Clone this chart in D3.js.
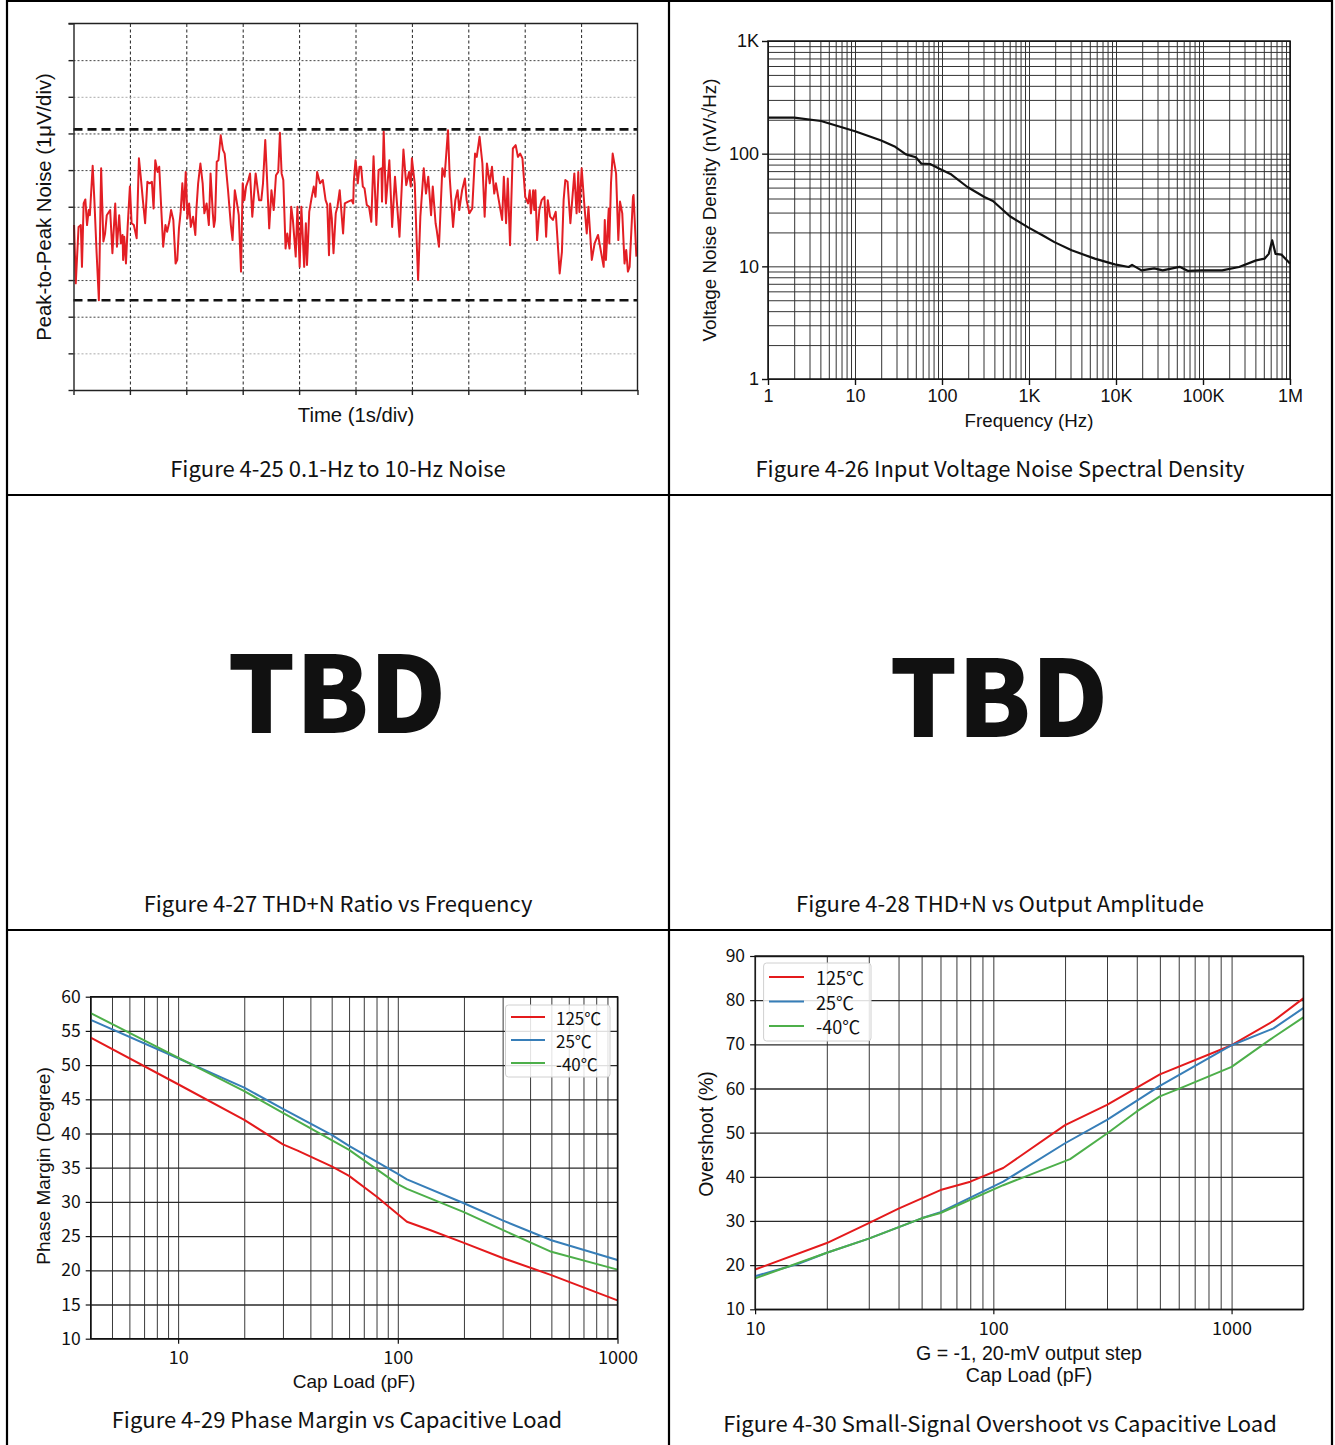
<!DOCTYPE html>
<html><head><meta charset="utf-8">
<script src="https://cdn.jsdelivr.net/npm/d3@7/dist/d3.min.js"></script>
<style>body{margin:0;background:#fff}svg{display:block}</style>
</head><body><svg id="c" width="1335" height="1445"></svg>
<script>
// ---------------- DATA ----------------
const captions = [
  "Figure 4-25 0.1-Hz to 10-Hz Noise",
  "Figure 4-26 Input Voltage Noise Spectral Density",
  "Figure 4-27 THD+N Ratio vs Frequency",
  "Figure 4-28 THD+N vs Output Amplitude",
  "Figure 4-29 Phase Margin vs Capacitive Load",
  "Figure 4-30 Small-Signal Overshoot vs Capacitive Load"
];
const tbdText = "TBD";

// Fig 4-25 : time (s) , noise (divisions of 1 uV)
const noiseDivs = [0,1,2,3,4,5,6,7,8,9,10];
const noiseBounds = [2.45, 7.11];
const noiseTrace = [
[0.01,4.50],[0.04,2.91],[0.09,4.45],[0.13,4.50],[0.15,3.36],[0.18,5.09],[0.21,5.20],[0.24,4.50],[0.27,4.91],[0.29,4.77],
[0.34,6.12],[0.37,5.18],[0.41,3.73],[0.45,2.45],[0.49,6.05],[0.53,4.05],[0.56,4.27],[0.59,4.77],[0.65,4.91],[0.69,3.73],
[0.74,5.09],[0.77,3.91],[0.81,4.77],[0.84,4.00],[0.87,4.23],[0.88,3.55],[0.90,4.18],[0.93,3.45],[0.96,4.45],[1.00,5.55],
[1.03,4.55],[1.07,4.50],[1.12,4.14],[1.16,6.32],[1.19,5.86],[1.23,5.18],[1.27,4.55],[1.31,5.68],[1.35,5.64],[1.39,5.68],
[1.42,4.95],[1.45,6.27],[1.49,5.95],[1.52,6.09],[1.56,4.82],[1.59,3.91],[1.63,4.50],[1.66,4.32],[1.70,4.59],[1.73,4.91],
[1.77,4.64],[1.81,3.45],[1.84,3.55],[1.87,4.41],[1.90,4.86],[1.93,5.64],[1.96,4.91],[1.99,5.95],[2.02,4.68],[2.05,5.09],
[2.08,4.45],[2.12,4.73],[2.16,4.23],[2.18,4.95],[2.21,5.64],[2.25,6.18],[2.29,5.64],[2.32,4.82],[2.36,5.09],[2.40,4.50],
[2.43,5.91],[2.47,4.82],[2.49,4.45],[2.51,4.64],[2.54,6.23],[2.57,6.27],[2.61,6.95],[2.65,6.55],[2.68,6.45],[2.74,5.45],
[2.79,4.50],[2.82,4.09],[2.86,5.45],[2.89,5.18],[2.93,4.77],[2.97,3.23],[3.00,5.64],[3.03,5.18],[3.06,5.55],[3.10,5.73],
[3.13,5.91],[3.17,4.73],[3.23,5.91],[3.29,5.18],[3.33,5.18],[3.36,5.64],[3.40,6.82],[3.43,5.82],[3.47,4.41],[3.51,5.45],
[3.55,4.91],[3.59,5.86],[3.63,5.95],[3.66,7.02],[3.69,5.91],[3.72,5.73],[3.76,3.86],[3.79,4.27],[3.83,3.86],[3.86,5.00],
[3.89,4.64],[3.94,3.64],[3.97,5.00],[4.01,3.36],[4.04,5.00],[4.09,3.36],[4.12,4.55],[4.14,3.41],[4.18,4.86],[4.22,5.23],
[4.26,5.55],[4.29,5.27],[4.32,5.95],[4.37,5.64],[4.42,5.73],[4.47,5.18],[4.50,5.05],[4.53,3.68],[4.55,5.09],[4.58,4.68],
[4.61,3.73],[4.65,4.82],[4.68,5.00],[4.72,5.45],[4.78,4.27],[4.81,5.09],[4.87,5.14],[4.93,5.18],[4.96,5.09],[4.97,5.68],
[5.00,6.27],[5.02,6.00],[5.04,5.64],[5.07,6.09],[5.10,6.09],[5.13,5.55],[5.16,5.50],[5.20,5.05],[5.24,5.00],[5.28,4.59],
[5.32,6.38],[5.37,4.50],[5.41,6.00],[5.46,6.05],[5.47,5.14],[5.50,7.05],[5.54,5.09],[5.60,6.27],[5.65,4.45],[5.70,5.82],
[5.78,4.18],[5.85,6.56],[5.90,5.59],[5.95,5.95],[5.98,5.55],[6.00,6.32],[6.05,5.64],[6.08,4.27],[6.11,3.00],[6.15,4.73],
[6.21,6.05],[6.25,5.36],[6.29,5.82],[6.34,4.77],[6.37,5.55],[6.42,4.55],[6.44,4.36],[6.48,3.91],[6.54,6.05],[6.58,5.82],
[6.64,7.09],[6.67,5.82],[6.73,4.45],[6.77,5.18],[6.81,5.45],[6.84,4.91],[6.89,5.45],[6.94,5.77],[6.97,5.18],[7.02,4.82],
[7.07,4.95],[7.12,6.45],[7.15,6.36],[7.20,6.91],[7.25,6.18],[7.29,4.73],[7.33,6.18],[7.38,5.64],[7.42,6.09],[7.46,5.36],
[7.49,5.64],[7.54,5.18],[7.60,4.64],[7.63,5.82],[7.67,4.55],[7.70,5.77],[7.74,3.95],[7.79,6.59],[7.84,6.68],[7.88,6.36],
[7.92,6.45],[7.96,6.32],[8.01,5.27],[8.06,5.09],[8.09,5.45],[8.11,4.82],[8.15,5.45],[8.17,4.91],[8.19,5.45],[8.22,4.09],
[8.26,4.91],[8.30,5.18],[8.35,5.27],[8.38,4.18],[8.41,5.18],[8.45,4.73],[8.50,4.64],[8.55,4.86],[8.62,3.18],[8.66,3.77],
[8.69,5.18],[8.72,5.73],[8.76,5.68],[8.81,4.55],[8.88,5.91],[8.92,4.82],[8.95,5.95],[8.97,4.86],[9.01,6.05],[9.06,5.00],
[9.10,4.27],[9.13,5.00],[9.19,3.55],[9.24,4.00],[9.30,4.23],[9.40,3.36],[9.42,4.64],[9.44,3.55],[9.49,4.95],[9.50,4.00],
[9.53,5.64],[9.56,6.45],[9.62,5.91],[9.66,4.09],[9.69,5.14],[9.73,4.82],[9.77,3.45],[9.80,3.82],[9.83,3.23],[9.86,3.36],
[9.92,5.27],[9.93,5.32],[9.98,3.64]
];

// Fig 4-26 : frequency (Hz), noise density (nV/rtHz)
const nsdFreq = [1,2,4.07,10,20,29,38.5,50,58,73,93.5,125,196,307,385,603,967,1480,1960,3090,5700,9670,14000,15300,19600,27500,34400,53800,67500,96700,166000,260000,408000,510000,570000,624000,682000,798000,1000000];
const nsdVal  = [209,209,195,158,131,115,98.6,93,81.5,81,73.6,66,50.6,41.2,38,27.8,22.3,18.6,16.4,13.9,11.7,10.4,9.86,10.3,9.2,9.6,9.2,9.9,9.1,9.2,9.2,9.86,11.3,11.7,12.9,17.0,12.9,12.7,10.6];
const nsdYTicks = [1,10,100,1000];
const nsdYLabels = ["1","10","100","1K"];
const nsdXTicks = [1,10,100,1000,10000,100000,1000000];
const nsdXLabels = ["1","10","100","1K","10K","100K","1M"];

// Fig 4-29 : cap load (pF), phase margin (deg)
const pmCapRed   = [4,10,20,30,35,50,60,80,110,140,200,300,500,1000];
const pm125      = [54.0,47.2,42.0,38.4,37.5,35.2,33.8,30.8,27.1,25.9,24.0,21.8,19.3,15.6];
const pmCapBlue  = [4,10,20,30,50,60,100,110,200,300,500,1000];
const pm25       = [56.6,51.0,46.7,43.6,39.8,38.2,34.1,33.3,29.8,27.3,24.4,21.5];
const pmCapGreen = [4,10,20,30,60,100,110,200,300,500,1000];
const pmM40      = [57.6,51.1,46.2,43.0,37.6,32.6,31.9,28.5,25.9,22.7,20.1];
const pmYTicks = [10,15,20,25,30,35,40,45,50,55,60];
const pmXTicks = [10,100,1000];

// Fig 4-30 : cap load (pF), overshoot (%)
const osCapRed   = [10,20,30,40,60,80,110,200,300,500,1000,1500,2000];
const os125      = [19.0,25.0,29.5,32.8,37.0,38.9,42.0,51.7,56.3,63.2,69.8,75.3,80.4];
const osCapBlue  = [10,15,20,30,50,60,110,200,300,500,1000,1500,2000];
const os25       = [17.5,20.2,22.8,26.0,30.6,32.0,38.9,47.6,52.9,60.6,69.8,73.6,78.2];
const osCapGreen = [10,20,30,50,60,110,210,300,400,500,600,1000,1500,2000];
const osM40      = [17.0,22.8,26.0,30.6,31.8,38.1,44.0,49.8,54.8,58.2,59.9,64.9,71.6,76.1];
const osYTicks = [10,20,30,40,50,60,70,80,90];
const osXTicks = [10,100,1000];

const legendLabels = ["125℃","25℃","-40℃"];
const seriesColors = ["#e41a1c","#377eb8","#4daf4a"];

// ---------------- DRAWING ----------------
const svg = d3.select("#c");
const CJK = "'Noto Sans CJK SC','Noto Sans',sans-serif";
const ARIAL = "'Liberation Sans',Arial,Helvetica,sans-serif";

function text(g, x, y, s, size, font, anchor, extra) {
  const t = g.append("text").attr("x", x).attr("y", y).text(s)
    .attr("font-size", size).attr("font-family", font)
    .attr("text-anchor", anchor || "middle").attr("fill", "#111");
  if (extra) extra(t);
  return t;
}
function vtext(g, x, y, s, size, font) {
  return g.append("text").attr("transform", `translate(${x},${y}) rotate(-90)`)
    .attr("text-anchor", "middle").attr("font-size", size).attr("font-family", font)
    .attr("fill", "#111").text(s);
}

// ===== Panel 1 : 0.1-10 Hz noise =====
(function () {
  const g = svg.append("g");
  const x = d3.scaleLinear().domain([0, 10]).range([73.5, 637.5]);
  const y = d3.scaleLinear().domain([0, 10]).range([390, 23.5]);
  g.append("g").attr("transform", `translate(0,${y(0)})`)
    .call(d3.axisBottom(x).tickValues(noiseDivs.slice(1, -1)).tickSize(-(y(0) - y(10))).tickFormat(""))
    .call(a => a.select(".domain").remove())
    .call(a => a.selectAll("line").attr("stroke", "#222").attr("stroke-dasharray", "3,2.5").attr("stroke-width", 1));
  g.append("g").attr("transform", `translate(${x(0)},0)`)
    .call(d3.axisLeft(y).tickValues(noiseDivs.slice(1, -1)).tickSize(-(x(10) - x(0))).tickFormat(""))
    .call(a => a.select(".domain").remove())
    .call(a => a.selectAll("line").attr("stroke", d => (d === 8 || d === 1) ? "#aaa" : "#444")
      .attr("stroke-dasharray", "2,2").attr("stroke-width", 1));
  g.append("path").datum(noiseTrace)
    .attr("d", d3.line().x(d => x(d[0])).y(d => y(d[1])))
    .attr("fill", "none").attr("stroke", "#e31e24").attr("stroke-width", 2).attr("stroke-linejoin", "round");
  g.selectAll(".bound").data(noiseBounds).join("line")
    .attr("x1", x(0)).attr("x2", x(10)).attr("y1", d => y(d)).attr("y2", d => y(d))
    .attr("stroke", "#111").attr("stroke-width", 2.6).attr("stroke-dasharray", "9,5");
  g.append("g").attr("transform", `translate(0,${y(0)})`)
    .call(d3.axisBottom(x).tickValues(noiseDivs).tickSize(5).tickSizeOuter(0).tickFormat(""))
    .call(a => a.selectAll("path,line").attr("stroke", "#222").attr("stroke-width", 1.4));
  g.append("g").attr("transform", `translate(${x(0)},0)`)
    .call(d3.axisLeft(y).tickValues(noiseDivs).tickSize(5).tickSizeOuter(0).tickFormat(""))
    .call(a => a.selectAll("path,line").attr("stroke", "#222").attr("stroke-width", 1.4));
  g.append("path").attr("d", `M${x(0) - 5},${y(10)}H${x(10)}V${y(0)}`)
    .attr("fill", "none").attr("stroke", "#222").attr("stroke-width", 1.4);
  text(g, 356, 422, "Time (1s/div)", 20.3, ARIAL);
  vtext(g, 51, 207, "Peak-to-Peak Noise (1μV/div)", 20.3, ARIAL);
})();

// ===== Panel 2 : noise spectral density =====
(function () {
  const g = svg.append("g");
  const x = d3.scaleLog().domain([1, 1e6]).range([768, 1290]);
  const y = d3.scaleLog().domain([1, 1000]).range([379, 41]);
  g.append("g").attr("transform", `translate(0,${y(1)})`)
    .call(d3.axisBottom(x).ticks(60).tickSize(-(y(1) - y(1000))).tickFormat(""))
    .call(a => a.select(".domain").remove())
    .call(a => a.selectAll("line").attr("stroke", "#333").attr("stroke-width", 1));
  g.append("g").attr("transform", `translate(${x(1)},0)`)
    .call(d3.axisLeft(y).ticks(30).tickSize(-(x(1e6) - x(1))).tickFormat(""))
    .call(a => a.select(".domain").remove())
    .call(a => a.selectAll("line").attr("stroke", "#333").attr("stroke-width", 1));
  g.append("rect").attr("x", x(1)).attr("y", y(1000)).attr("width", x(1e6) - x(1)).attr("height", y(1) - y(1000))
    .attr("fill", "none").attr("stroke", "#111").attr("stroke-width", 1.5);
  g.append("g").attr("transform", `translate(0,${y(1)})`)
    .call(d3.axisBottom(x).tickValues(nsdXTicks).tickSize(6).tickSizeOuter(0).tickFormat((d, i) => nsdXLabels[i]).tickPadding(4))
    .call(a => a.select(".domain").remove())
    .call(a => a.selectAll("line").attr("stroke", "#111").attr("stroke-width", 1.4))
    .call(a => a.selectAll("text").attr("font-size", 18).attr("font-family", ARIAL).attr("fill", "#111"));
  g.append("g").attr("transform", `translate(${x(1)},0)`)
    .call(d3.axisLeft(y).tickValues(nsdYTicks).tickSize(6).tickSizeOuter(0).tickFormat((d, i) => nsdYLabels[i]).tickPadding(3))
    .call(a => a.select(".domain").remove())
    .call(a => a.selectAll("line").attr("stroke", "#111").attr("stroke-width", 1.4))
    .call(a => a.selectAll("text").attr("font-size", 18).attr("font-family", ARIAL).attr("fill", "#111"));
  const pts = nsdFreq.map((f, i) => [f, nsdVal[i]]);
  g.append("path").datum(pts)
    .attr("d", d3.line().x(d => x(d[0])).y(d => y(d[1])))
    .attr("fill", "none").attr("stroke", "#111").attr("stroke-width", 2.2).attr("stroke-linejoin", "round");
  text(g, 1029, 427, "Frequency (Hz)", 18.7, ARIAL);
  vtext(g, 716, 210, "Voltage Noise Density (nV/√Hz)", 18.8, ARIAL);
})();

// ===== generic matplotlib-like panel =====
function mplPanel(opt) {
  const g = svg.append("g");
  const x = d3.scaleLog().domain(opt.xDom).range(opt.xRange);
  const y = d3.scaleLinear().domain(opt.yDom).range(opt.yRange);
  const h = opt.yRange[0] - opt.yRange[1], w = opt.xRange[1] - opt.xRange[0];
  g.append("g").attr("transform", `translate(0,${opt.yRange[0]})`)
    .call(d3.axisBottom(x).ticks(40).tickSize(-h).tickFormat(""))
    .call(a => a.select(".domain").remove())
    .call(a => a.selectAll("line").attr("stroke", "#3a3a3a").attr("stroke-width", 1));
  g.append("g").attr("transform", `translate(${opt.xRange[0]},0)`)
    .call(d3.axisLeft(y).tickValues(opt.yTicks).tickSize(-w).tickFormat(""))
    .call(a => a.select(".domain").remove())
    .call(a => a.selectAll("line").attr("stroke", "#2a2a2a").attr("stroke-width", 1.3));
  opt.series.forEach((s, i) => {
    g.append("path").datum(s.xs.map((c, j) => [c, s.ys[j]]))
      .attr("d", d3.line().x(d => x(d[0])).y(d => y(d[1])))
      .attr("fill", "none").attr("stroke", seriesColors[i]).attr("stroke-width", 2)
      .attr("stroke-linejoin", "round");
  });
  g.append("rect").attr("x", opt.xRange[0]).attr("y", opt.yRange[1]).attr("width", w).attr("height", h)
    .attr("fill", "none").attr("stroke", "#111").attr("stroke-width", 1.4);
  g.append("g").attr("transform", `translate(0,${opt.yRange[0]})`)
    .call(d3.axisBottom(x).tickValues(opt.xTicks).tickSize(5).tickSizeOuter(0).tickFormat(d3.format("d")).tickPadding(8))
    .call(a => a.select(".domain").remove())
    .call(a => a.selectAll("line").attr("stroke", "#111").attr("stroke-width", 1.2))
    .call(a => a.selectAll("text").attr("font-size", 18).attr("font-family", CJK).attr("fill", "#111"));
  g.append("g").attr("transform", `translate(${opt.xRange[0]},0)`)
    .call(d3.axisLeft(y).tickValues(opt.yTicks).tickSize(5).tickSizeOuter(0).tickFormat(d3.format("d")).tickPadding(5))
    .call(a => a.select(".domain").remove())
    .call(a => a.selectAll("line").attr("stroke", "#111").attr("stroke-width", 1.2))
    .call(a => a.selectAll("text").attr("font-size", 17.5).attr("font-family", CJK).attr("fill", "#111"));
  const L = opt.legend;
  const lg = g.append("g");
  lg.append("rect").attr("x", L.x).attr("y", L.y).attr("width", L.w).attr("height", L.h).attr("rx", 3)
    .attr("fill", "#fff").attr("fill-opacity", 0.85).attr("stroke", "#d0d0d0").attr("stroke-width", 1);
  legendLabels.forEach((lab, i) => {
    const yy = L.y0 + i * L.dy;
    lg.append("line").attr("x1", L.lx0).attr("x2", L.lx1).attr("y1", yy).attr("y2", yy)
      .attr("stroke", seriesColors[i]).attr("stroke-width", 2);
    lg.append("text").attr("x", L.tx).attr("y", yy).attr("dominant-baseline", "central")
      .attr("font-size", L.fs).attr("font-family", CJK).attr("fill", "#111").text(lab);
  });
  return g;
}

// ===== Panel 3 : phase margin =====
(function () {
  const g = mplPanel({
    xDom: [4, 1000], xRange: [90.7, 617.5], yDom: [10, 60], yRange: [1338.7, 996.7],
    yTicks: pmYTicks, xTicks: pmXTicks,
    series: [{ xs: pmCapRed, ys: pm125 }, { xs: pmCapBlue, ys: pm25 }, { xs: pmCapGreen, ys: pmM40 }],
    legend: { x: 505.5, y: 1005, w: 104.5, h: 72, y0: 1017, dy: 23, lx0: 511, lx1: 545, tx: 556, fs: 17 }
  });
  text(g, 354, 1388, "Cap Load (pF)", 19, ARIAL);
  vtext(g, 50, 1166, "Phase Margin (Degree)", 19, ARIAL);
})();

// ===== Panel 4 : overshoot =====
(function () {
  const g = mplPanel({
    xDom: [10, 2000], xRange: [755.1, 1303.3], yDom: [10, 90], yRange: [1309.3, 956],
    yTicks: osYTicks, xTicks: osXTicks,
    series: [{ xs: osCapRed, ys: os125 }, { xs: osCapBlue, ys: os25 }, { xs: osCapGreen, ys: osM40 }],
    legend: { x: 763.6, y: 963, w: 107.4, h: 78, y0: 977, dy: 24.5, lx0: 769, lx1: 804, tx: 816, fs: 18 }
  });
  text(g, 1029, 1360, "G = -1, 20-mV output step", 19.6, ARIAL);
  text(g, 1029, 1382, "Cap Load (pF)", 19.6, ARIAL);
  vtext(g, 713, 1134, "Overshoot (%)", 19.5, ARIAL);
})();

// ===== TBD placeholders & captions =====
const cap = svg.append("g");
text(cap, 337, 733, tbdText, 106, CJK, "middle", t => t.attr("font-weight", 900));
text(cap, 999, 737, tbdText, 106, CJK, "middle", t => t.attr("font-weight", 900));
const capPos = [[338, 477], [1000, 477], [338, 912], [1000, 912], [337, 1428], [1000, 1432]];
captions.forEach((c, i) => text(cap, capPos[i][0], capPos[i][1], c, 22, CJK));

// ===== panel borders =====
const b = svg.append("g").attr("stroke", "#000").attr("stroke-width", 2.2);
b.append("line").attr("x1", 7).attr("x2", 1332).attr("y1", 1).attr("y2", 1);
b.append("line").attr("x1", 7).attr("x2", 7).attr("y1", 0).attr("y2", 1445);
b.append("line").attr("x1", 1332).attr("x2", 1332).attr("y1", 0).attr("y2", 1445);
b.append("line").attr("x1", 669).attr("x2", 669).attr("y1", 0).attr("y2", 1445);
b.append("line").attr("x1", 7).attr("x2", 1332).attr("y1", 495).attr("y2", 495);
b.append("line").attr("x1", 7).attr("x2", 1332).attr("y1", 930).attr("y2", 930);
</script>
</body></html>
